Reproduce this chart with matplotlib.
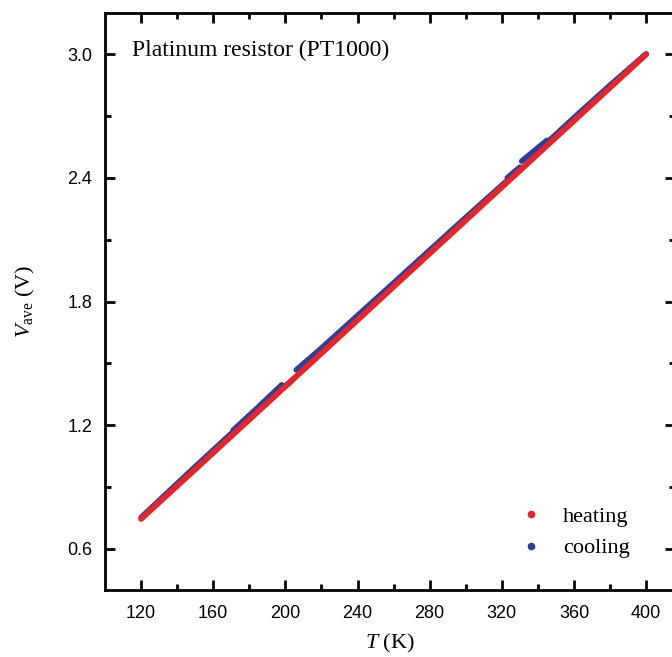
import matplotlib
matplotlib.use("Agg")
from matplotlib import pyplot as plt
from matplotlib.lines import Line2D
import numpy as np

nan = np.nan

# heating run (red)
heating_T = [120, 140, 160, 180, 200, 220, 240, 260, 280, 300, 320, 340, 360, 380, 400]
heating_V = [0.745, 0.905, 1.066, 1.227, 1.388, 1.549, 1.710, 1.872, 2.033,
             2.194, 2.355, 2.516, 2.677, 2.838, 2.999]

# cooling run (blue), pieces separated by nan where it steps
cooling_T = [400, 380, 360, 346, nan,
             345, 338, 331, nan,
             330, 323, nan,
             322, 300, 280, 260, 240, 220, 206, nan,
             205, 199, nan,
             198, 185, 171, nan,
             170, 145, 120]
cooling_V = [3.002, 2.850, 2.692, 2.579, nan,
             2.582, 2.532, 2.481, nan,
             2.452, 2.400, nan,
             2.380, 2.208, 2.049, 1.890, 1.732, 1.574, 1.468, nan,
             1.429, 1.381, nan,
             1.396, 1.288, 1.175, nan,
             1.160, 0.958, 0.752]

x_ticks = [120, 160, 200, 240, 280, 320, 360, 400]
y_ticks = [0.6, 1.2, 1.8, 2.4, 3.0]

red = "#e3262c"
blue = "#2d3f9b"

plt.rcParams["mathtext.fontset"] = "custom"
plt.rcParams["mathtext.rm"] = "Liberation Serif"
plt.rcParams["mathtext.it"] = "Liberation Serif:italic"

fig = plt.figure(figsize=(6.72, 6.57), dpi=100)
ax = fig.add_axes([105 / 672, 67 / 657, 570 / 672, 577 / 657])

ax.plot(cooling_T, cooling_V, color=blue, lw=4, solid_capstyle="round")
ax.plot(heating_T, heating_V, color=red, lw=4.2, solid_capstyle="round")

ax.set_xlim(100, 416)
ax.set_ylim(0.4, 3.2)
ax.set_xticks(x_ticks)
ax.set_yticks(y_ticks)
ax.set_xticks(np.arange(140, 416, 40), minor=True)
ax.set_yticks(np.arange(0.9, 3.2, 0.6), minor=True)
ax.set_xticklabels([str(t) for t in x_ticks], family="Liberation Sans", fontsize=13)
ax.set_yticklabels([f"{v:.1f}" for v in y_ticks], family="Liberation Sans", fontsize=13)
ax.tick_params(which="both", direction="in", top=True, right=True, width=2)
ax.tick_params(which="major", length=7)
ax.tick_params(which="minor", length=4)
ax.tick_params(axis="x", which="major", pad=11)
ax.tick_params(axis="y", which="major", pad=9)
for sp in ax.spines.values():
    sp.set_linewidth(2)

ax.set_xlabel(r"$T$ (K)", family="Liberation Serif", fontsize=16, labelpad=7)
ax.set_ylabel(r"$V_{\rm ave}$ (V)", family="Liberation Serif", fontsize=16, labelpad=22)

ax.text(0.048, 0.935, "Platinum resistor (PT1000)", transform=ax.transAxes,
        family="Liberation Serif", fontsize=17, va="center", ha="left")

handles = [Line2D([], [], ls="none", marker="o", ms=4.5, color=red, label="heating"),
           Line2D([], [], ls="none", marker="o", ms=4.5, color=blue, label="cooling")]
ax.legend(handles=handles, loc="lower right", bbox_to_anchor=(0.956, 0.02),
          frameon=False, prop={"family": "Liberation Serif", "size": 16},
          handletextpad=0.45, labelspacing=0.5)

fig.savefig("out.png", dpi=100)
